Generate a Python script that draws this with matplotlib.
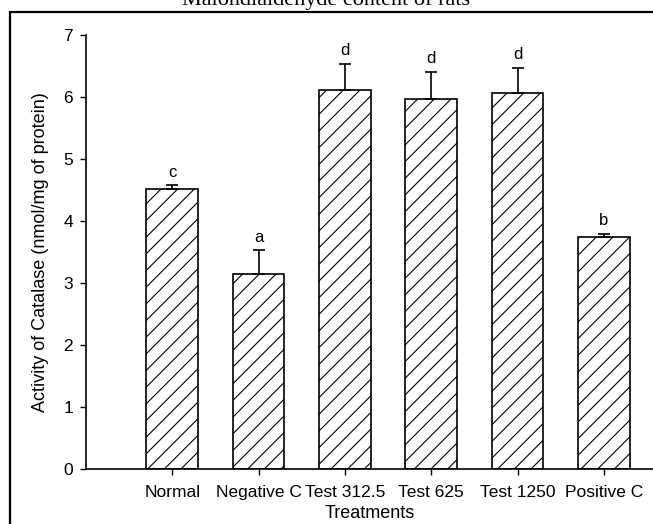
import numpy as np
import matplotlib.pyplot as plt
from matplotlib.patches import Rectangle

# values
treatments = ['Normal', 'Negative C', 'Test 312.5', 'Test 625', 'Test 1250', 'Positive C']
catalase = [4.51, 3.14, 6.11, 5.96, 6.06, 3.75]
sem = [0.065, 0.39, 0.43, 0.45, 0.41, 0.04]
letters = ['c', 'a', 'd', 'd', 'd', 'b']
y_ticks = [0, 1, 2, 3, 4, 5, 6, 7]

plt.rcParams['font.family'] = ['Liberation Sans', 'DejaVu Sans']
plt.rcParams['hatch.linewidth'] = 0.8
plt.rcParams['hatch.color'] = 'black'

fig = plt.figure(figsize=(6.53, 5.24), dpi=100)
W, H = 653, 524
ax = fig.add_axes([86 / W, (H - 469) / H, (W - 86) / W, 434 / H])

x = np.arange(len(treatments))
ax.bar(x, catalase, width=0.6, color='white', edgecolor='black',
       linewidth=1.2, hatch='//', zorder=2)
ax.errorbar(x, catalase, yerr=[np.zeros(len(sem)), sem], fmt='none',
            ecolor='black', elinewidth=1.2, capsize=4, capthick=1.2, zorder=3)

for xi, v, e, lab in zip(x, catalase, sem, letters):
    ax.annotate(lab, (xi, v + e), xytext=(0, 4), textcoords='offset points',
                ha='center', va='bottom', fontsize=12)

ax.set_xlim(-1.0, 5.57)
ax.set_ylim(0, 7)
ax.set_xticks(x)
ax.set_xticklabels(treatments, fontsize=12.5)
ax.set_yticks(y_ticks)
ax.tick_params(axis='y', labelsize=12.5, length=4.3, width=1, pad=5)
ax.tick_params(axis='x', length=4.3, width=1, pad=7)
for s in ['top', 'right']:
    ax.spines[s].set_visible(False)
for s in ['left', 'bottom']:
    ax.spines[s].set_linewidth(1.2)

ax.set_xlabel('Treatments', fontsize=13, labelpad=4)
ax.set_ylabel('Activity of Catalase (nmol/mg of protein)', fontsize=13, labelpad=10)

fig.text(0.5, 1 - 5 / H, 'Malondialdehyde content of rats', ha='center',
         va='baseline', fontsize=16, family=['Liberation Serif', 'DejaVu Serif'])

fig.add_artist(Rectangle((10 / W, -0.1), 2, (1 - 12 / H) + 0.1,
                         transform=fig.transFigure, fill=False,
                         edgecolor='black', linewidth=1.6))

fig.savefig('out.png', dpi=100)
